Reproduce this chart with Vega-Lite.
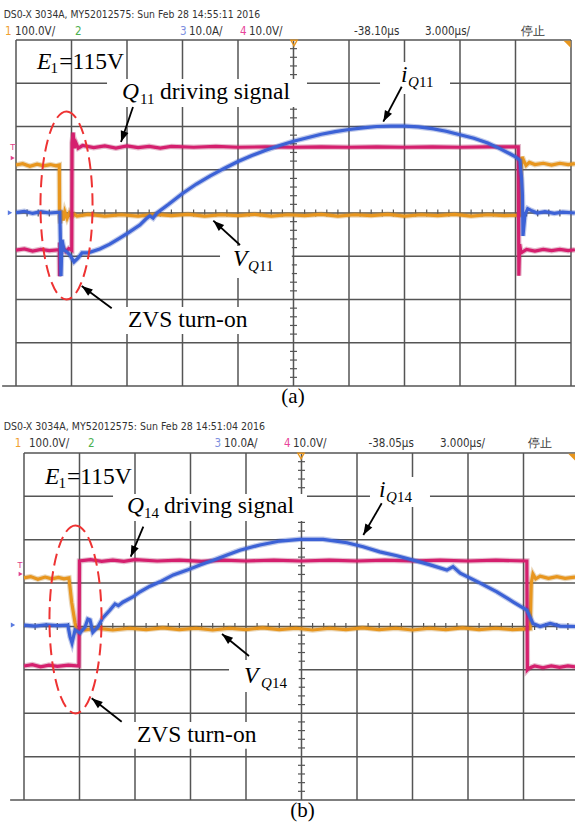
{
  "$schema": "https://vega.github.io/schema/vega-lite/v6.json",
  "background": "white",
  "padding": 0,
  "spacing": 0,
  "bounds": "flush",
  "config": {"view": {"stroke": null}},
  "resolve": {"scale": {"x": "independent", "y": "independent"}},
  "datasets": {
    "grid": [
      {"x": 0, "x2": 0, "y": -4, "y2": 4}, {"x": 1, "x2": 1, "y": -4, "y2": 4}, {"x": 2, "x2": 2, "y": -4, "y2": 4},
      {"x": 3, "x2": 3, "y": -4, "y2": 4}, {"x": 4, "x2": 4, "y": -4, "y2": 4}, {"x": 5, "x2": 5, "y": -4, "y2": 4},
      {"x": 6, "x2": 6, "y": -4, "y2": 4}, {"x": 7, "x2": 7, "y": -4, "y2": 4}, {"x": 8, "x2": 8, "y": -4, "y2": 4},
      {"x": 9, "x2": 9, "y": -4, "y2": 4}, {"x": 10, "x2": 10, "y": -4, "y2": 4},
      {"x": -0.25, "x2": 10.1, "y": -4, "y2": -4}, {"x": 0, "x2": 10, "y": -3, "y2": -3}, {"x": 0, "x2": 10, "y": -2, "y2": -2},
      {"x": 0, "x2": 10, "y": -1, "y2": -1}, {"x": 0, "x2": 10, "y": 0, "y2": 0}, {"x": 0, "x2": 10, "y": 1, "y2": 1},
      {"x": 0, "x2": 10, "y": 2, "y2": 2}, {"x": 0, "x2": 10, "y": 3, "y2": 3}, {"x": 0, "x2": 10, "y": 4, "y2": 4}
    ],
    "ticks": [
      {"o": "h", "x": 5, "y": -3.8}, {"o": "h", "x": 5, "y": -3.6}, {"o": "h", "x": 5, "y": -3.4}, {"o": "h", "x": 5, "y": -3.2},
      {"o": "h", "x": 5, "y": -2.8}, {"o": "h", "x": 5, "y": -2.6}, {"o": "h", "x": 5, "y": -2.4}, {"o": "h", "x": 5, "y": -2.2},
      {"o": "h", "x": 5, "y": -1.8}, {"o": "h", "x": 5, "y": -1.6}, {"o": "h", "x": 5, "y": -1.4}, {"o": "h", "x": 5, "y": -1.2},
      {"o": "h", "x": 5, "y": -0.8}, {"o": "h", "x": 5, "y": -0.6}, {"o": "h", "x": 5, "y": -0.4}, {"o": "h", "x": 5, "y": -0.2},
      {"o": "h", "x": 5, "y": 0.2}, {"o": "h", "x": 5, "y": 0.4}, {"o": "h", "x": 5, "y": 0.6}, {"o": "h", "x": 5, "y": 0.8},
      {"o": "h", "x": 5, "y": 1.2}, {"o": "h", "x": 5, "y": 1.4}, {"o": "h", "x": 5, "y": 1.6}, {"o": "h", "x": 5, "y": 1.8},
      {"o": "h", "x": 5, "y": 2.2}, {"o": "h", "x": 5, "y": 2.4}, {"o": "h", "x": 5, "y": 2.6}, {"o": "h", "x": 5, "y": 2.8},
      {"o": "h", "x": 5, "y": 3.2}, {"o": "h", "x": 5, "y": 3.4}, {"o": "h", "x": 5, "y": 3.6}, {"o": "h", "x": 5, "y": 3.8},
      {"o": "v", "x": 0.2, "y": 0}, {"o": "v", "x": 0.4, "y": 0}, {"o": "v", "x": 0.6, "y": 0}, {"o": "v", "x": 0.8, "y": 0},
      {"o": "v", "x": 1.2, "y": 0}, {"o": "v", "x": 1.4, "y": 0}, {"o": "v", "x": 1.6, "y": 0}, {"o": "v", "x": 1.8, "y": 0},
      {"o": "v", "x": 2.2, "y": 0}, {"o": "v", "x": 2.4, "y": 0}, {"o": "v", "x": 2.6, "y": 0}, {"o": "v", "x": 2.8, "y": 0},
      {"o": "v", "x": 3.2, "y": 0}, {"o": "v", "x": 3.4, "y": 0}, {"o": "v", "x": 3.6, "y": 0}, {"o": "v", "x": 3.8, "y": 0},
      {"o": "v", "x": 4.2, "y": 0}, {"o": "v", "x": 4.4, "y": 0}, {"o": "v", "x": 4.6, "y": 0}, {"o": "v", "x": 4.8, "y": 0},
      {"o": "v", "x": 5.2, "y": 0}, {"o": "v", "x": 5.4, "y": 0}, {"o": "v", "x": 5.6, "y": 0}, {"o": "v", "x": 5.8, "y": 0},
      {"o": "v", "x": 6.2, "y": 0}, {"o": "v", "x": 6.4, "y": 0}, {"o": "v", "x": 6.6, "y": 0}, {"o": "v", "x": 6.8, "y": 0},
      {"o": "v", "x": 7.2, "y": 0}, {"o": "v", "x": 7.4, "y": 0}, {"o": "v", "x": 7.6, "y": 0}, {"o": "v", "x": 7.8, "y": 0},
      {"o": "v", "x": 8.2, "y": 0}, {"o": "v", "x": 8.4, "y": 0}, {"o": "v", "x": 8.6, "y": 0}, {"o": "v", "x": 8.8, "y": 0},
      {"o": "v", "x": 9.2, "y": 0}, {"o": "v", "x": 9.4, "y": 0}, {"o": "v", "x": 9.6, "y": 0}, {"o": "v", "x": 9.8, "y": 0}
    ],
    "trA": [
      {"ch": "o", "x": 0, "y": 1.11}, {"ch": "o", "x": 0.12, "y": 1.14}, {"ch": "o", "x": 0.25, "y": 1.08}, {"ch": "o", "x": 0.38, "y": 1.13},
      {"ch": "o", "x": 0.5, "y": 1.09}, {"ch": "o", "x": 0.62, "y": 1.12}, {"ch": "o", "x": 0.72, "y": 1.09}, {"ch": "o", "x": 0.78, "y": 1.11},
      {"ch": "o", "x": 0.786, "y": -0.05}, {"ch": "o", "x": 0.8, "y": -0.24}, {"ch": "o", "x": 0.82, "y": 0.06}, {"ch": "o", "x": 0.85, "y": -0.17},
      {"ch": "o", "x": 0.88, "y": 0.03}, {"ch": "o", "x": 0.92, "y": -0.12}, {"ch": "o", "x": 0.96, "y": 0.0}, {"ch": "o", "x": 1.0, "y": -0.09},
      {"ch": "o", "x": 1.05, "y": -0.03}, {"ch": "o", "x": 1.1, "y": -0.07}, {"ch": "o", "x": 1.3, "y": -0.03}, {"ch": "o", "x": 1.6, "y": -0.07},
      {"ch": "o", "x": 1.9, "y": -0.04}, {"ch": "o", "x": 2.2, "y": -0.07}, {"ch": "o", "x": 2.5, "y": -0.03}, {"ch": "o", "x": 2.8, "y": -0.06},
      {"ch": "o", "x": 3.1, "y": -0.03}, {"ch": "o", "x": 3.4, "y": -0.07}, {"ch": "o", "x": 3.7, "y": -0.04}, {"ch": "o", "x": 4.0, "y": -0.06},
      {"ch": "o", "x": 4.3, "y": -0.03}, {"ch": "o", "x": 4.6, "y": -0.07}, {"ch": "o", "x": 4.9, "y": -0.04}, {"ch": "o", "x": 5.2, "y": -0.06},
      {"ch": "o", "x": 5.5, "y": -0.03}, {"ch": "o", "x": 5.8, "y": -0.07}, {"ch": "o", "x": 6.1, "y": -0.04}, {"ch": "o", "x": 6.4, "y": -0.06},
      {"ch": "o", "x": 6.7, "y": -0.03}, {"ch": "o", "x": 7.0, "y": -0.07}, {"ch": "o", "x": 7.3, "y": -0.04}, {"ch": "o", "x": 7.6, "y": -0.06},
      {"ch": "o", "x": 7.9, "y": -0.03}, {"ch": "o", "x": 8.2, "y": -0.07}, {"ch": "o", "x": 8.5, "y": -0.04}, {"ch": "o", "x": 8.8, "y": -0.06},
      {"ch": "o", "x": 9.09, "y": -0.05}, {"ch": "o", "x": 9.1, "y": 1.02}, {"ch": "o", "x": 9.12, "y": 1.3}, {"ch": "o", "x": 9.15, "y": 1.2},
      {"ch": "o", "x": 9.19, "y": 1.1}, {"ch": "o", "x": 9.25, "y": 1.17}, {"ch": "o", "x": 9.35, "y": 1.12}, {"ch": "o", "x": 9.5, "y": 1.15},
      {"ch": "o", "x": 9.65, "y": 1.11}, {"ch": "o", "x": 9.8, "y": 1.15}, {"ch": "o", "x": 9.95, "y": 1.12}, {"ch": "o", "x": 10.07, "y": 1.14},
      {"ch": "p", "x": 0, "y": -0.86}, {"ch": "p", "x": 0.15, "y": -0.83}, {"ch": "p", "x": 0.3, "y": -0.88}, {"ch": "p", "x": 0.45, "y": -0.84},
      {"ch": "p", "x": 0.6, "y": -0.87}, {"ch": "p", "x": 0.78, "y": -0.85}, {"ch": "p", "x": 0.785, "y": -1.46}, {"ch": "p", "x": 0.79, "y": -0.68},
      {"ch": "p", "x": 0.81, "y": -0.93}, {"ch": "p", "x": 0.85, "y": -0.8}, {"ch": "p", "x": 0.9, "y": -0.89}, {"ch": "p", "x": 0.95, "y": -0.82},
      {"ch": "p", "x": 1.005, "y": -0.86}, {"ch": "p", "x": 1.01, "y": 1.62}, {"ch": "p", "x": 1.03, "y": 1.86}, {"ch": "p", "x": 1.05, "y": 1.5},
      {"ch": "p", "x": 1.08, "y": 1.62}, {"ch": "p", "x": 1.12, "y": 1.5}, {"ch": "p", "x": 1.2, "y": 1.56}, {"ch": "p", "x": 1.4, "y": 1.51},
      {"ch": "p", "x": 1.6, "y": 1.55}, {"ch": "p", "x": 1.8, "y": 1.5}, {"ch": "p", "x": 2.0, "y": 1.55}, {"ch": "p", "x": 2.2, "y": 1.51},
      {"ch": "p", "x": 2.4, "y": 1.54}, {"ch": "p", "x": 2.6, "y": 1.5}, {"ch": "p", "x": 2.8, "y": 1.54}, {"ch": "p", "x": 3.2, "y": 1.52},
      {"ch": "p", "x": 3.6, "y": 1.54}, {"ch": "p", "x": 4.0, "y": 1.52}, {"ch": "p", "x": 4.5, "y": 1.53}, {"ch": "p", "x": 5.0, "y": 1.52},
      {"ch": "p", "x": 5.5, "y": 1.53}, {"ch": "p", "x": 6.0, "y": 1.52}, {"ch": "p", "x": 6.5, "y": 1.53}, {"ch": "p", "x": 7.0, "y": 1.52},
      {"ch": "p", "x": 7.5, "y": 1.53}, {"ch": "p", "x": 8.0, "y": 1.52}, {"ch": "p", "x": 8.5, "y": 1.53}, {"ch": "p", "x": 9.05, "y": 1.53},
      {"ch": "p", "x": 9.06, "y": -1.45}, {"ch": "p", "x": 9.075, "y": -0.72}, {"ch": "p", "x": 9.1, "y": -0.92}, {"ch": "p", "x": 9.2, "y": -0.84},
      {"ch": "p", "x": 9.35, "y": -0.88}, {"ch": "p", "x": 9.5, "y": -0.84}, {"ch": "p", "x": 9.65, "y": -0.87}, {"ch": "p", "x": 9.8, "y": -0.84},
      {"ch": "p", "x": 9.95, "y": -0.87}, {"ch": "p", "x": 10.07, "y": -0.85},
      {"ch": "b", "x": 0, "y": 0.01}, {"ch": "b", "x": 0.15, "y": 0.04}, {"ch": "b", "x": 0.3, "y": -0.01}, {"ch": "b", "x": 0.45, "y": 0.03},
      {"ch": "b", "x": 0.6, "y": 0.0}, {"ch": "b", "x": 0.79, "y": 0.02}, {"ch": "b", "x": 0.8, "y": -0.6}, {"ch": "b", "x": 0.81, "y": -1.46},
      {"ch": "b", "x": 0.83, "y": -0.62}, {"ch": "b", "x": 0.865, "y": -0.86}, {"ch": "b", "x": 0.92, "y": -0.9}, {"ch": "b", "x": 0.97, "y": -0.97},
      {"ch": "b", "x": 1.045, "y": -1.13}, {"ch": "b", "x": 1.12, "y": -1.04}, {"ch": "b", "x": 1.19, "y": -0.92}, {"ch": "b", "x": 1.3, "y": -0.92},
      {"ch": "b", "x": 1.51, "y": -0.83}, {"ch": "b", "x": 1.69, "y": -0.72}, {"ch": "b", "x": 1.87, "y": -0.58}, {"ch": "b", "x": 2.02, "y": -0.46},
      {"ch": "b", "x": 2.23, "y": -0.28}, {"ch": "b", "x": 2.34, "y": -0.14}, {"ch": "b", "x": 2.41, "y": -0.07}, {"ch": "b", "x": 2.47, "y": -0.12},
      {"ch": "b", "x": 2.54, "y": 0.0}, {"ch": "b", "x": 2.75, "y": 0.2}, {"ch": "b", "x": 3.0, "y": 0.45}, {"ch": "b", "x": 3.25, "y": 0.67},
      {"ch": "b", "x": 3.5, "y": 0.86}, {"ch": "b", "x": 3.75, "y": 1.03}, {"ch": "b", "x": 4.0, "y": 1.19}, {"ch": "b", "x": 4.25, "y": 1.33},
      {"ch": "b", "x": 4.5, "y": 1.45}, {"ch": "b", "x": 4.75, "y": 1.56}, {"ch": "b", "x": 5.0, "y": 1.66}, {"ch": "b", "x": 5.25, "y": 1.74},
      {"ch": "b", "x": 5.5, "y": 1.82}, {"ch": "b", "x": 5.75, "y": 1.88}, {"ch": "b", "x": 6.0, "y": 1.93}, {"ch": "b", "x": 6.25, "y": 1.97},
      {"ch": "b", "x": 6.5, "y": 2.0}, {"ch": "b", "x": 6.75, "y": 2.01}, {"ch": "b", "x": 7.0, "y": 2.01}, {"ch": "b", "x": 7.25, "y": 1.99},
      {"ch": "b", "x": 7.5, "y": 1.95}, {"ch": "b", "x": 7.75, "y": 1.89}, {"ch": "b", "x": 8.0, "y": 1.81}, {"ch": "b", "x": 8.25, "y": 1.73},
      {"ch": "b", "x": 8.5, "y": 1.62}, {"ch": "b", "x": 8.7, "y": 1.5}, {"ch": "b", "x": 8.9, "y": 1.37}, {"ch": "b", "x": 9.0, "y": 1.3},
      {"ch": "b", "x": 9.08, "y": 1.22}, {"ch": "b", "x": 9.11, "y": 0.8}, {"ch": "b", "x": 9.125, "y": 0.42}, {"ch": "b", "x": 9.135, "y": -0.53},
      {"ch": "b", "x": 9.17, "y": -0.05}, {"ch": "b", "x": 9.22, "y": 0.1}, {"ch": "b", "x": 9.28, "y": 0.06}, {"ch": "b", "x": 9.39, "y": 0.0},
      {"ch": "b", "x": 9.53, "y": 0.03}, {"ch": "b", "x": 9.7, "y": -0.01}, {"ch": "b", "x": 9.85, "y": 0.02}, {"ch": "b", "x": 10.07, "y": 0.0}
    ],
    "trB": [
      {"ch": "o", "x": 0, "y": 1.12}, {"ch": "o", "x": 0.12, "y": 1.15}, {"ch": "o", "x": 0.25, "y": 1.09}, {"ch": "o", "x": 0.38, "y": 1.14},
      {"ch": "o", "x": 0.5, "y": 1.1}, {"ch": "o", "x": 0.62, "y": 1.13}, {"ch": "o", "x": 0.72, "y": 1.1}, {"ch": "o", "x": 0.81, "y": 1.12},
      {"ch": "o", "x": 0.86, "y": 0.55}, {"ch": "o", "x": 0.92, "y": 0.08}, {"ch": "o", "x": 0.95, "y": -0.09}, {"ch": "o", "x": 1.0, "y": -0.04},
      {"ch": "o", "x": 1.1, "y": -0.08}, {"ch": "o", "x": 1.3, "y": -0.04}, {"ch": "o", "x": 1.6, "y": -0.08}, {"ch": "o", "x": 1.9, "y": -0.04},
      {"ch": "o", "x": 2.2, "y": -0.07}, {"ch": "o", "x": 2.5, "y": -0.03}, {"ch": "o", "x": 2.8, "y": -0.07}, {"ch": "o", "x": 3.1, "y": -0.04},
      {"ch": "o", "x": 3.4, "y": -0.08}, {"ch": "o", "x": 3.7, "y": -0.04}, {"ch": "o", "x": 4.0, "y": -0.07}, {"ch": "o", "x": 4.3, "y": -0.03},
      {"ch": "o", "x": 4.6, "y": -0.07}, {"ch": "o", "x": 4.9, "y": -0.04}, {"ch": "o", "x": 5.2, "y": -0.08}, {"ch": "o", "x": 5.5, "y": -0.04},
      {"ch": "o", "x": 5.8, "y": -0.07}, {"ch": "o", "x": 6.1, "y": -0.03}, {"ch": "o", "x": 6.4, "y": -0.07}, {"ch": "o", "x": 6.7, "y": -0.04},
      {"ch": "o", "x": 7.0, "y": -0.08}, {"ch": "o", "x": 7.3, "y": -0.04}, {"ch": "o", "x": 7.6, "y": -0.07}, {"ch": "o", "x": 7.9, "y": -0.03},
      {"ch": "o", "x": 8.2, "y": -0.07}, {"ch": "o", "x": 8.5, "y": -0.04}, {"ch": "o", "x": 8.8, "y": -0.07}, {"ch": "o", "x": 9.12, "y": -0.05},
      {"ch": "o", "x": 9.14, "y": 1.0}, {"ch": "o", "x": 9.17, "y": 1.21}, {"ch": "o", "x": 9.22, "y": 1.1}, {"ch": "o", "x": 9.3, "y": 1.16},
      {"ch": "o", "x": 9.45, "y": 1.11}, {"ch": "o", "x": 9.6, "y": 1.15}, {"ch": "o", "x": 9.75, "y": 1.11}, {"ch": "o", "x": 9.93, "y": 1.14},
      {"ch": "p", "x": 0, "y": -0.91}, {"ch": "p", "x": 0.15, "y": -0.88}, {"ch": "p", "x": 0.3, "y": -0.93}, {"ch": "p", "x": 0.45, "y": -0.89},
      {"ch": "p", "x": 0.6, "y": -0.92}, {"ch": "p", "x": 0.8, "y": -0.89}, {"ch": "p", "x": 0.99, "y": -0.91}, {"ch": "p", "x": 1.0, "y": 1.51},
      {"ch": "p", "x": 1.2, "y": 1.54}, {"ch": "p", "x": 1.4, "y": 1.5}, {"ch": "p", "x": 1.6, "y": 1.53}, {"ch": "p", "x": 1.8, "y": 1.5},
      {"ch": "p", "x": 2.0, "y": 1.54}, {"ch": "p", "x": 2.4, "y": 1.51}, {"ch": "p", "x": 2.8, "y": 1.53}, {"ch": "p", "x": 3.2, "y": 1.5},
      {"ch": "p", "x": 3.6, "y": 1.53}, {"ch": "p", "x": 4.0, "y": 1.51}, {"ch": "p", "x": 4.5, "y": 1.53}, {"ch": "p", "x": 5.0, "y": 1.51},
      {"ch": "p", "x": 5.5, "y": 1.53}, {"ch": "p", "x": 6.0, "y": 1.51}, {"ch": "p", "x": 6.5, "y": 1.53}, {"ch": "p", "x": 7.0, "y": 1.51},
      {"ch": "p", "x": 7.5, "y": 1.53}, {"ch": "p", "x": 8.0, "y": 1.51}, {"ch": "p", "x": 8.5, "y": 1.53}, {"ch": "p", "x": 9.06, "y": 1.51},
      {"ch": "p", "x": 9.07, "y": -1.0}, {"ch": "p", "x": 9.1, "y": -0.96}, {"ch": "p", "x": 9.2, "y": -0.91}, {"ch": "p", "x": 9.35, "y": -0.95},
      {"ch": "p", "x": 9.5, "y": -0.91}, {"ch": "p", "x": 9.65, "y": -0.94}, {"ch": "p", "x": 9.8, "y": -0.91}, {"ch": "p", "x": 9.93, "y": -0.93},
      {"ch": "b", "x": 0, "y": 0.03}, {"ch": "b", "x": 0.2, "y": 0.01}, {"ch": "b", "x": 0.4, "y": 0.04}, {"ch": "b", "x": 0.6, "y": 0.02},
      {"ch": "b", "x": 0.79, "y": 0.03}, {"ch": "b", "x": 0.83, "y": -0.24}, {"ch": "b", "x": 0.865, "y": -0.38}, {"ch": "b", "x": 0.92, "y": -0.08},
      {"ch": "b", "x": 1.01, "y": -0.15}, {"ch": "b", "x": 1.1, "y": -0.01}, {"ch": "b", "x": 1.15, "y": 0.17}, {"ch": "b", "x": 1.19, "y": 0.15},
      {"ch": "b", "x": 1.24, "y": -0.13}, {"ch": "b", "x": 1.33, "y": -0.01}, {"ch": "b", "x": 1.42, "y": 0.2}, {"ch": "b", "x": 1.55, "y": 0.38},
      {"ch": "b", "x": 1.64, "y": 0.52}, {"ch": "b", "x": 1.7, "y": 0.48}, {"ch": "b", "x": 1.78, "y": 0.56}, {"ch": "b", "x": 1.96, "y": 0.68},
      {"ch": "b", "x": 2.09, "y": 0.8}, {"ch": "b", "x": 2.27, "y": 0.93}, {"ch": "b", "x": 2.45, "y": 1.03}, {"ch": "b", "x": 2.69, "y": 1.19},
      {"ch": "b", "x": 2.94, "y": 1.3}, {"ch": "b", "x": 3.17, "y": 1.42}, {"ch": "b", "x": 3.41, "y": 1.53}, {"ch": "b", "x": 3.66, "y": 1.65},
      {"ch": "b", "x": 3.89, "y": 1.76}, {"ch": "b", "x": 4.25, "y": 1.88}, {"ch": "b", "x": 4.61, "y": 1.97}, {"ch": "b", "x": 4.97, "y": 2.01},
      {"ch": "b", "x": 5.39, "y": 2.01}, {"ch": "b", "x": 5.82, "y": 1.93}, {"ch": "b", "x": 6.11, "y": 1.84}, {"ch": "b", "x": 6.41, "y": 1.72},
      {"ch": "b", "x": 6.72, "y": 1.63}, {"ch": "b", "x": 7.01, "y": 1.53}, {"ch": "b", "x": 7.32, "y": 1.42}, {"ch": "b", "x": 7.62, "y": 1.3},
      {"ch": "b", "x": 7.73, "y": 1.38}, {"ch": "b", "x": 7.86, "y": 1.23}, {"ch": "b", "x": 8.22, "y": 1.0}, {"ch": "b", "x": 8.52, "y": 0.8},
      {"ch": "b", "x": 8.81, "y": 0.57}, {"ch": "b", "x": 9.06, "y": 0.38}, {"ch": "b", "x": 9.17, "y": 0.07}, {"ch": "b", "x": 9.3, "y": 0.0},
      {"ch": "b", "x": 9.48, "y": 0.07}, {"ch": "b", "x": 9.66, "y": 0.01}, {"ch": "b", "x": 9.93, "y": 0.0}
    ],
    "txA": [
      {"s": "i", "x": 0.378, "y": 3.318, "t": "E"}, {"s": "s", "x": 0.62, "y": 3.237, "t": "1"}, {"s": "n", "x": 0.78, "y": 3.318, "t": "=115V"},
      {"s": "i", "x": 1.91, "y": 2.636, "t": "Q"}, {"s": "s", "x": 2.234, "y": 2.52, "t": "11"}, {"s": "n", "x": 2.595, "y": 2.636, "t": "driving signal"},
      {"s": "i", "x": 6.937, "y": 3.029, "t": "i"}, {"s": "si", "x": 7.063, "y": 2.913, "t": "Q"}, {"s": "s", "x": 7.261, "y": 2.913, "t": "11"},
      {"s": "i", "x": 3.91, "y": -1.225, "t": "V"}, {"s": "si", "x": 4.18, "y": -1.341, "t": "Q"}, {"s": "s", "x": 4.378, "y": -1.341, "t": "11"},
      {"s": "n", "x": 2.018, "y": -2.636, "t": "ZVS turn-on"}, {"s": "c", "x": 4.991, "y": -4.393, "t": "(a)"}
    ],
    "txB": [
      {"s": "i", "x": 0.378, "y": 3.285, "t": "E"}, {"s": "s", "x": 0.622, "y": 3.182, "t": "1"}, {"s": "n", "x": 0.775, "y": 3.285, "t": "=115V"},
      {"s": "i", "x": 1.856, "y": 2.617, "t": "Q"}, {"s": "s", "x": 2.162, "y": 2.501, "t": "14"}, {"s": "n", "x": 2.523, "y": 2.617, "t": "driving signal"},
      {"s": "i", "x": 6.396, "y": 2.993, "t": "i"}, {"s": "si", "x": 6.523, "y": 2.877, "t": "Q"}, {"s": "s", "x": 6.721, "y": 2.877, "t": "14"},
      {"s": "i", "x": 3.964, "y": -1.303, "t": "V"}, {"s": "si", "x": 4.27, "y": -1.418, "t": "Q"}, {"s": "s", "x": 4.468, "y": -1.418, "t": "14"},
      {"s": "n", "x": 2.036, "y": -2.663, "t": "ZVS turn-on"}, {"s": "c", "x": 5.018, "y": -4.392, "t": "(b)"}
    ],
    "hdA": [
      {"r": 1, "c": "k", "x": -0.222, "y": 4.52, "t": "DS0-X 3034A, MY52012575: Sun Feb 28 14:55:11 2016"},
      {"r": 2, "c": "1", "x": -0.2, "y": 4.127, "t": "1"}, {"r": 2, "c": "k", "x": -0.018, "y": 4.127, "t": "100.0V/"},
      {"r": 2, "c": "2", "x": 1.063, "y": 4.127, "t": "2"}, {"r": 2, "c": "3", "x": 2.955, "y": 4.127, "t": "3"},
      {"r": 2, "c": "k", "x": 3.117, "y": 4.127, "t": "10.0A/"}, {"r": 2, "c": "4", "x": 4.036, "y": 4.127, "t": "4"},
      {"r": 2, "c": "k", "x": 4.198, "y": 4.127, "t": "10.0V/"}, {"r": 2, "c": "k", "x": 6.09, "y": 4.127, "t": "-38.10µs"},
      {"r": 2, "c": "k", "x": 7.369, "y": 4.127, "t": "3.000µs/"}, {"r": 2, "c": "k", "x": 9.099, "y": 4.127, "t": "停止"}
    ],
    "hdB": [
      {"r": 1, "c": "k", "x": -0.366, "y": 4.53, "t": "DS0-X 3034A, MY52012575: Sun Feb 28 14:51:04 2016"},
      {"r": 2, "c": "1", "x": -0.168, "y": 4.138, "t": "1"}, {"r": 2, "c": "k", "x": 0.09, "y": 4.138, "t": "100.0V/"},
      {"r": 2, "c": "2", "x": 1.153, "y": 4.138, "t": "2"}, {"r": 2, "c": "3", "x": 3.432, "y": 4.138, "t": "3"},
      {"r": 2, "c": "k", "x": 3.604, "y": 4.138, "t": "10.0A/"}, {"r": 2, "c": "4", "x": 4.685, "y": 4.138, "t": "4"},
      {"r": 2, "c": "k", "x": 4.847, "y": 4.138, "t": "10.0V/"}, {"r": 2, "c": "k", "x": 6.207, "y": 4.138, "t": "-38.05µs"},
      {"r": 2, "c": "k", "x": 7.495, "y": 4.138, "t": "3.000µs/"}, {"r": 2, "c": "k", "x": 9.081, "y": 4.138, "t": "停止"}
    ],
    "arA": [
      {"x": 1.892, "y": 1.642, "tx": 2.108, "ty": 2.451, "a": 199},
      {"x": 6.618, "y": 2.111, "tx": 6.95, "ty": 2.92, "a": 208},
      {"x": 3.555, "y": -0.178, "tx": 4.036, "ty": -0.74, "a": 312},
      {"x": 1.184, "y": -1.688, "tx": 1.724, "ty": -2.203, "a": 307}
    ],
    "arB": [
      {"x": 1.923, "y": 1.609, "tx": 2.15, "ty": 2.301, "a": 203},
      {"x": 6.114, "y": 2.109, "tx": 6.445, "ty": 2.84, "a": 210},
      {"x": 3.568, "y": -0.173, "tx": 4.054, "ty": -0.68, "a": 309},
      {"x": 1.22, "y": -1.655, "tx": 1.76, "ty": -2.195, "a": 308}
    ],
    "bxA": [
      {"x": 1.64, "x2": 5.243, "y": 3.098, "y2": 2.451},
      {"x": 6.559, "x2": 7.82, "y": 3.492, "y2": 2.751},
      {"x": 3.676, "x2": 4.97, "y": -0.763, "y2": -1.503},
      {"x": 1.91, "x2": 4.324, "y": -2.173, "y2": -2.798}
    ],
    "bxB": [
      {"x": 1.604, "x2": 5.099, "y": 3.055, "y2": 2.432},
      {"x": 6.234, "x2": 7.315, "y": 3.447, "y2": 2.755},
      {"x": 3.694, "x2": 4.95, "y": -0.772, "y2": -1.51},
      {"x": 1.928, "x2": 4.288, "y": -2.199, "y2": -2.821}
    ],
    "mkA": [
      {"m": "T", "x": -0.059, "y": 1.526}, {"m": "pt", "x": -0.059, "y": 1.272}, {"m": "bt", "x": -0.108, "y": 0.007},
      {"m": "tr", "x": 5.009, "y": 3.93}, {"m": "cn", "x": 9.93, "y": 3.9}
    ],
    "mkB": [
      {"m": "T", "x": -0.072, "y": 1.418}, {"m": "pt", "x": -0.06, "y": 1.21}, {"m": "bt", "x": -0.198, "y": 0.035},
      {"m": "tr", "x": 4.991, "y": 3.93}, {"m": "cn", "x": 9.87, "y": 3.9}
    ],
    "elA": [{"x": 0.91, "y": 0.176}],
    "elB": [{"x": 0.928, "y": 0.164}]
  },
  "vconcat": [
    {
      "width": 575,
      "height": 412,
      "encoding": {
        "x": {"field": "x", "type": "quantitative", "scale": {"domain": [-0.2883, 10.0721], "nice": false, "zero": false}, "axis": null},
        "y": {"field": "y", "type": "quantitative", "scale": {"domain": [-4.6012, 4.9249], "nice": false, "zero": false}, "axis": null}
      },
      "layer": [
        {"data": {"name": "grid"}, "mark": {"type": "rule", "stroke": "#555555", "strokeWidth": 1.5, "clip": true}, "encoding": {"x2": {"field": "x2"}, "y2": {"field": "y2"}}},
        {"data": {"name": "ticks"}, "transform": [{"filter": "datum.o === 'h'"}], "mark": {"type": "tick", "orient": "horizontal", "size": 7, "thickness": 1.2, "color": "#555555", "opacity": 1}},
        {"data": {"name": "ticks"}, "transform": [{"filter": "datum.o === 'v'"}], "mark": {"type": "tick", "orient": "vertical", "size": 7, "thickness": 1.2, "color": "#555555", "opacity": 1}},
        {"data": {"name": "bxA"}, "mark": {"type": "rect", "fill": "white"}, "encoding": {"x2": {"field": "x2"}, "y2": {"field": "y2"}}},
        {"data": {"name": "trA"}, "transform": [{"filter": "datum.ch === 'o'"}], "mark": {"type": "line", "stroke": "#b87a18", "strokeWidth": 5.5, "opacity": 0.3, "clip": true}},
        {"data": {"name": "trA"}, "transform": [{"filter": "datum.ch === 'o'"}], "mark": {"type": "line", "stroke": "#e8961e", "strokeWidth": 3.2, "clip": true}},
        {"data": {"name": "trA"}, "transform": [{"filter": "datum.ch === 'p'"}], "mark": {"type": "line", "stroke": "#a8205a", "strokeWidth": 5.5, "opacity": 0.3, "clip": true}},
        {"data": {"name": "trA"}, "transform": [{"filter": "datum.ch === 'p'"}], "mark": {"type": "line", "stroke": "#d51f6e", "strokeWidth": 3.2, "clip": true}},
        {"data": {"name": "trA"}, "transform": [{"filter": "datum.ch === 'b'"}], "mark": {"type": "line", "stroke": "#2a4cb8", "strokeWidth": 5.5, "opacity": 0.3, "clip": true}},
        {"data": {"name": "trA"}, "transform": [{"filter": "datum.ch === 'b'"}], "mark": {"type": "line", "stroke": "#3c62d6", "strokeWidth": 3.2, "clip": true}},
        {"data": {"name": "elA"}, "mark": {"type": "point", "shape": "M0,-1C0.153,-1,0.277,-0.552,0.277,0C0.277,0.552,0.153,1,0,1C-0.153,1,-0.277,0.552,-0.277,0C-0.277,-0.552,-0.153,-1,0,-1Z", "size": 35344, "filled": false, "stroke": "#ee3333", "strokeWidth": 2, "strokeDash": [12, 6], "opacity": 1}},
        {"data": {"name": "arA"}, "mark": {"type": "rule", "stroke": "black", "strokeWidth": 1.8}, "encoding": {"x2": {"field": "tx"}, "y2": {"field": "ty"}}},
        {"data": {"name": "arA"}, "mark": {"type": "point", "shape": "M0,0L0.4,1.1L-0.4,1.1Z", "size": 400, "filled": true, "fill": "black", "strokeWidth": 0, "opacity": 1}, "encoding": {"angle": {"field": "a", "type": "quantitative", "scale": null}}},
        {"data": {"name": "mkA"}, "transform": [{"filter": "datum.m === 'T'"}], "mark": {"type": "text", "text": "T", "font": "Liberation Sans", "fontSize": 9, "baseline": "middle", "color": "#e0408a"}},
        {"data": {"name": "mkA"}, "transform": [{"filter": "datum.m === 'pt'"}], "mark": {"type": "point", "shape": "triangle-right", "size": 22, "filled": true, "color": "#e0408a", "opacity": 1}},
        {"data": {"name": "mkA"}, "transform": [{"filter": "datum.m === 'bt'"}], "mark": {"type": "point", "shape": "triangle-right", "size": 26, "filled": true, "color": "#5a7ae0", "opacity": 1}},
        {"data": {"name": "mkA"}, "transform": [{"filter": "datum.m === 'tr'"}], "mark": {"type": "point", "shape": "triangle-down", "size": 40, "filled": false, "stroke": "#e8961e", "strokeWidth": 1.4, "opacity": 1}},
        {"data": {"name": "mkA"}, "transform": [{"filter": "datum.m === 'cn'"}], "mark": {"type": "point", "shape": "M-1,-1L1,-1L1,1Z", "size": 50, "filled": true, "color": "#e8961e", "opacity": 1}},
        {"data": {"name": "hdA"}, "transform": [{"filter": "datum.r === 1"}], "mark": {"type": "text", "font": "DejaVu Sans Condensed, DejaVu Sans, sans-serif", "fontSize": 10.3, "align": "left", "baseline": "alphabetic", "color": "#333333"}, "encoding": {"text": {"field": "t"}}},
        {"data": {"name": "hdA"}, "transform": [{"filter": "datum.r === 2"}], "mark": {"type": "text", "font": "DejaVu Sans Condensed, DejaVu Sans, sans-serif", "fontSize": 11.5, "align": "left", "baseline": "alphabetic"}, "encoding": {"text": {"field": "t"}, "color": {"field": "c", "type": "nominal", "scale": {"domain": ["k", "1", "2", "3", "4"], "range": ["#333333", "#f0a030", "#4cb050", "#7d8fe0", "#e8449a"]}, "legend": null}}},
        {"data": {"name": "txA"}, "transform": [{"filter": "datum.s === 'n'"}], "mark": {"type": "text", "font": "Liberation Serif", "fontSize": 23.5, "align": "left", "baseline": "alphabetic", "color": "black"}, "encoding": {"text": {"field": "t"}}},
        {"data": {"name": "txA"}, "transform": [{"filter": "datum.s === 'i'"}], "mark": {"type": "text", "font": "Liberation Serif", "fontStyle": "italic", "fontSize": 23.5, "align": "left", "baseline": "alphabetic", "color": "black"}, "encoding": {"text": {"field": "t"}}},
        {"data": {"name": "txA"}, "transform": [{"filter": "datum.s === 's'"}], "mark": {"type": "text", "font": "Liberation Serif", "fontSize": 15, "align": "left", "baseline": "alphabetic", "color": "black"}, "encoding": {"text": {"field": "t"}}},
        {"data": {"name": "txA"}, "transform": [{"filter": "datum.s === 'si'"}], "mark": {"type": "text", "font": "Liberation Serif", "fontStyle": "italic", "fontSize": 15, "align": "left", "baseline": "alphabetic", "color": "black"}, "encoding": {"text": {"field": "t"}}},
        {"data": {"name": "txA"}, "transform": [{"filter": "datum.s === 'c'"}], "mark": {"type": "text", "font": "Liberation Serif", "fontSize": 21, "align": "center", "baseline": "alphabetic", "color": "black"}, "encoding": {"text": {"field": "t"}}}
      ]
    },
    {
      "width": 575,
      "height": 412,
      "encoding": {
        "x": {"field": "x", "type": "quantitative", "scale": {"domain": [-0.4324, 9.9279], "nice": false, "zero": false}, "axis": null},
        "y": {"field": "y", "type": "quantitative", "scale": {"domain": [-4.5533, 4.9452], "nice": false, "zero": false}, "axis": null}
      },
      "layer": [
        {"data": {"name": "grid"}, "mark": {"type": "rule", "stroke": "#555555", "strokeWidth": 1.5, "clip": true}, "encoding": {"x2": {"field": "x2"}, "y2": {"field": "y2"}}},
        {"data": {"name": "ticks"}, "transform": [{"filter": "datum.o === 'h'"}], "mark": {"type": "tick", "orient": "horizontal", "size": 7, "thickness": 1.2, "color": "#555555", "opacity": 1}},
        {"data": {"name": "ticks"}, "transform": [{"filter": "datum.o === 'v'"}], "mark": {"type": "tick", "orient": "vertical", "size": 7, "thickness": 1.2, "color": "#555555", "opacity": 1}},
        {"data": {"name": "bxB"}, "mark": {"type": "rect", "fill": "white"}, "encoding": {"x2": {"field": "x2"}, "y2": {"field": "y2"}}},
        {"data": {"name": "trB"}, "transform": [{"filter": "datum.ch === 'o'"}], "mark": {"type": "line", "stroke": "#b87a18", "strokeWidth": 5.5, "opacity": 0.3, "clip": true}},
        {"data": {"name": "trB"}, "transform": [{"filter": "datum.ch === 'o'"}], "mark": {"type": "line", "stroke": "#e8961e", "strokeWidth": 3.2, "clip": true}},
        {"data": {"name": "trB"}, "transform": [{"filter": "datum.ch === 'p'"}], "mark": {"type": "line", "stroke": "#a8205a", "strokeWidth": 5.5, "opacity": 0.3, "clip": true}},
        {"data": {"name": "trB"}, "transform": [{"filter": "datum.ch === 'p'"}], "mark": {"type": "line", "stroke": "#d51f6e", "strokeWidth": 3.2, "clip": true}},
        {"data": {"name": "trB"}, "transform": [{"filter": "datum.ch === 'b'"}], "mark": {"type": "line", "stroke": "#2a4cb8", "strokeWidth": 5.5, "opacity": 0.3, "clip": true}},
        {"data": {"name": "trB"}, "transform": [{"filter": "datum.ch === 'b'"}], "mark": {"type": "line", "stroke": "#3c62d6", "strokeWidth": 3.2, "clip": true}},
        {"data": {"name": "elB"}, "mark": {"type": "point", "shape": "M0,-1C0.153,-1,0.277,-0.552,0.277,0C0.277,0.552,0.153,1,0,1C-0.153,1,-0.277,0.552,-0.277,0C-0.277,-0.552,-0.153,-1,0,-1Z", "size": 35344, "filled": false, "stroke": "#ee3333", "strokeWidth": 2, "strokeDash": [12, 6], "opacity": 1}},
        {"data": {"name": "arB"}, "mark": {"type": "rule", "stroke": "black", "strokeWidth": 1.8}, "encoding": {"x2": {"field": "tx"}, "y2": {"field": "ty"}}},
        {"data": {"name": "arB"}, "mark": {"type": "point", "shape": "M0,0L0.4,1.1L-0.4,1.1Z", "size": 400, "filled": true, "fill": "black", "strokeWidth": 0, "opacity": 1}, "encoding": {"angle": {"field": "a", "type": "quantitative", "scale": null}}},
        {"data": {"name": "mkB"}, "transform": [{"filter": "datum.m === 'T'"}], "mark": {"type": "text", "text": "T", "font": "Liberation Sans", "fontSize": 9, "baseline": "middle", "color": "#e0408a"}},
        {"data": {"name": "mkB"}, "transform": [{"filter": "datum.m === 'pt'"}], "mark": {"type": "point", "shape": "triangle-right", "size": 22, "filled": true, "color": "#e0408a", "opacity": 1}},
        {"data": {"name": "mkB"}, "transform": [{"filter": "datum.m === 'bt'"}], "mark": {"type": "point", "shape": "triangle-right", "size": 26, "filled": true, "color": "#5a7ae0", "opacity": 1}},
        {"data": {"name": "mkB"}, "transform": [{"filter": "datum.m === 'tr'"}], "mark": {"type": "point", "shape": "triangle-down", "size": 40, "filled": false, "stroke": "#e8961e", "strokeWidth": 1.4, "opacity": 1}},
        {"data": {"name": "mkB"}, "transform": [{"filter": "datum.m === 'cn'"}], "mark": {"type": "point", "shape": "M-1,-1L1,-1L1,1Z", "size": 50, "filled": true, "color": "#e8961e", "opacity": 1}},
        {"data": {"name": "hdB"}, "transform": [{"filter": "datum.r === 1"}], "mark": {"type": "text", "font": "DejaVu Sans Condensed, DejaVu Sans, sans-serif", "fontSize": 10.5, "align": "left", "baseline": "alphabetic", "color": "#333333"}, "encoding": {"text": {"field": "t"}}},
        {"data": {"name": "hdB"}, "transform": [{"filter": "datum.r === 2"}], "mark": {"type": "text", "font": "DejaVu Sans Condensed, DejaVu Sans, sans-serif", "fontSize": 11.5, "align": "left", "baseline": "alphabetic"}, "encoding": {"text": {"field": "t"}, "color": {"field": "c", "type": "nominal", "scale": {"domain": ["k", "1", "2", "3", "4"], "range": ["#333333", "#f0a030", "#4cb050", "#7d8fe0", "#e8449a"]}, "legend": null}}},
        {"data": {"name": "txB"}, "transform": [{"filter": "datum.s === 'n'"}], "mark": {"type": "text", "font": "Liberation Serif", "fontSize": 23.5, "align": "left", "baseline": "alphabetic", "color": "black"}, "encoding": {"text": {"field": "t"}}},
        {"data": {"name": "txB"}, "transform": [{"filter": "datum.s === 'i'"}], "mark": {"type": "text", "font": "Liberation Serif", "fontStyle": "italic", "fontSize": 23.5, "align": "left", "baseline": "alphabetic", "color": "black"}, "encoding": {"text": {"field": "t"}}},
        {"data": {"name": "txB"}, "transform": [{"filter": "datum.s === 's'"}], "mark": {"type": "text", "font": "Liberation Serif", "fontSize": 15, "align": "left", "baseline": "alphabetic", "color": "black"}, "encoding": {"text": {"field": "t"}}},
        {"data": {"name": "txB"}, "transform": [{"filter": "datum.s === 'si'"}], "mark": {"type": "text", "font": "Liberation Serif", "fontStyle": "italic", "fontSize": 15, "align": "left", "baseline": "alphabetic", "color": "black"}, "encoding": {"text": {"field": "t"}}},
        {"data": {"name": "txB"}, "transform": [{"filter": "datum.s === 'c'"}], "mark": {"type": "text", "font": "Liberation Serif", "fontSize": 21, "align": "center", "baseline": "alphabetic", "color": "black"}, "encoding": {"text": {"field": "t"}}}
      ]
    }
  ]
}
